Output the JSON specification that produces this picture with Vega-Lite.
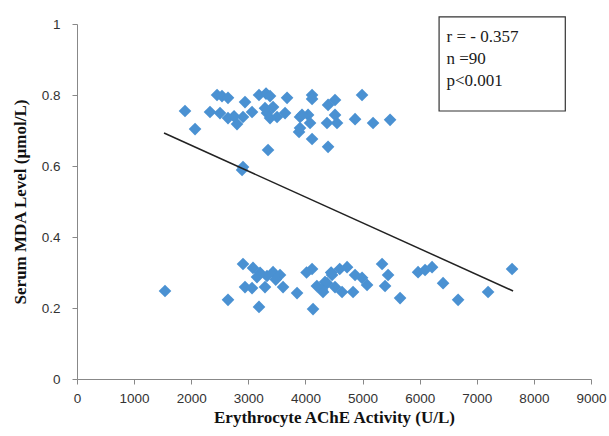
{
  "$schema": "https://vega.github.io/schema/vega-lite/v6.json",
  "width": 514,
  "height": 355,
  "autosize": "none",
  "padding": {"left": 77, "top": 24, "right": 18, "bottom": 57},
  "background": "white",
  "config": {"view": {"stroke": null}},
  "datasets": {
    "pts": [
      {"x": 1891, "y": 0.755}, {"x": 2067, "y": 0.704}, {"x": 2452, "y": 0.800}, {"x": 2539, "y": 0.797},
      {"x": 2644, "y": 0.792}, {"x": 2329, "y": 0.752}, {"x": 2504, "y": 0.749}, {"x": 2644, "y": 0.735},
      {"x": 2802, "y": 0.718}, {"x": 2942, "y": 0.780}, {"x": 3065, "y": 0.752}, {"x": 2907, "y": 0.738},
      {"x": 3187, "y": 0.800}, {"x": 3310, "y": 0.804}, {"x": 3380, "y": 0.797}, {"x": 3678, "y": 0.792},
      {"x": 3327, "y": 0.749}, {"x": 3433, "y": 0.766}, {"x": 3503, "y": 0.738}, {"x": 3643, "y": 0.749},
      {"x": 3345, "y": 0.645}, {"x": 2907, "y": 0.597}, {"x": 2890, "y": 0.589}, {"x": 4116, "y": 0.800},
      {"x": 4116, "y": 0.789}, {"x": 3905, "y": 0.738}, {"x": 4046, "y": 0.744}, {"x": 4081, "y": 0.721},
      {"x": 3888, "y": 0.696}, {"x": 4116, "y": 0.676}, {"x": 4396, "y": 0.654}, {"x": 4396, "y": 0.772},
      {"x": 4518, "y": 0.786}, {"x": 4378, "y": 0.721}, {"x": 4518, "y": 0.744}, {"x": 4553, "y": 0.721},
      {"x": 4991, "y": 0.800}, {"x": 4869, "y": 0.732}, {"x": 5184, "y": 0.721}, {"x": 5482, "y": 0.730},
      {"x": 3905, "y": 0.707}, {"x": 3292, "y": 0.763}, {"x": 3380, "y": 0.735}, {"x": 3940, "y": 0.744},
      {"x": 2750, "y": 0.740},
      {"x": 1541, "y": 0.248}, {"x": 2907, "y": 0.324}, {"x": 3082, "y": 0.313}, {"x": 3205, "y": 0.299},
      {"x": 3327, "y": 0.290}, {"x": 3433, "y": 0.301}, {"x": 3555, "y": 0.293}, {"x": 3152, "y": 0.287},
      {"x": 2942, "y": 0.259}, {"x": 3065, "y": 0.256}, {"x": 3292, "y": 0.259}, {"x": 3608, "y": 0.259},
      {"x": 3853, "y": 0.242}, {"x": 2644, "y": 0.223}, {"x": 3187, "y": 0.203}, {"x": 4116, "y": 0.310},
      {"x": 4133, "y": 0.197}, {"x": 4308, "y": 0.245}, {"x": 4378, "y": 0.270}, {"x": 4466, "y": 0.293},
      {"x": 4343, "y": 0.273}, {"x": 4291, "y": 0.251}, {"x": 4518, "y": 0.259}, {"x": 4641, "y": 0.245},
      {"x": 4729, "y": 0.315}, {"x": 4834, "y": 0.245}, {"x": 4869, "y": 0.293}, {"x": 4991, "y": 0.285},
      {"x": 5079, "y": 0.265}, {"x": 5342, "y": 0.324}, {"x": 5447, "y": 0.293}, {"x": 5394, "y": 0.262},
      {"x": 5657, "y": 0.228}, {"x": 5972, "y": 0.301}, {"x": 6095, "y": 0.307}, {"x": 6217, "y": 0.315},
      {"x": 6410, "y": 0.270}, {"x": 6673, "y": 0.223}, {"x": 7198, "y": 0.245}, {"x": 7618, "y": 0.310},
      {"x": 4200, "y": 0.262}, {"x": 4450, "y": 0.300}, {"x": 4600, "y": 0.310}, {"x": 3480, "y": 0.280},
      {"x": 4020, "y": 0.300}
    ],
    "fit": [{"x": 1524, "y": 0.693}, {"x": 7636, "y": 0.248}],
    "box": [{"x1": 6340, "x2": 8550, "y1": 1.02, "y2": 0.755}],
    "notes": [
      {"label": "r = - 0.357", "x": 6470, "y": 0.963},
      {"label": "n =90", "x": 6470, "y": 0.901},
      {"label": "p<0.001", "x": 6470, "y": 0.839}
    ]
  },
  "layer": [
    {
      "data": {"name": "pts"},
      "mark": {"type": "point", "shape": "diamond", "filled": true, "size": 160, "color": "#4a91d2", "opacity": 1},
      "encoding": {
        "x": {
          "field": "x", "type": "quantitative",
          "scale": {"domain": [0, 9000], "nice": false, "zero": false},
          "axis": {
            "values": [0, 1000, 2000, 3000, 4000, 5000, 6000, 7000, 8000, 9000],
            "format": "d", "grid": false, "domainColor": "#888888", "tickColor": "#888888",
            "tickSize": 5, "labelFont": "Liberation Sans", "labelFontSize": 13.5, "labelColor": "#333333",
            "labelPadding": 7, "labelFlush": false,
            "title": "Erythrocyte AChE Activity (U/L)", "titleFont": "Liberation Serif",
            "titleFontSize": 17, "titleFontWeight": "bold", "titleColor": "#111111", "titlePadding": 5
          }
        },
        "y": {
          "field": "y", "type": "quantitative",
          "scale": {"domain": [0, 1], "nice": false},
          "axis": {
            "values": [0, 0.2, 0.4, 0.6, 0.8, 1],
            "format": "~g",
            "grid": false, "domainColor": "#888888", "tickColor": "#888888",
            "tickSize": 5, "labelFont": "Liberation Sans", "labelFontSize": 13.5, "labelColor": "#333333",
            "labelPadding": 12, "labelFlush": false,
            "title": "Serum MDA Level  (µmol/L)", "titleFont": "Liberation Serif",
            "titleFontSize": 17, "titleFontWeight": "bold", "titleColor": "#111111", "titlePadding": 12
          }
        }
      }
    },
    {
      "data": {"name": "fit"},
      "mark": {"type": "line", "color": "#222222", "strokeWidth": 1.5},
      "encoding": {
        "x": {"field": "x", "type": "quantitative"},
        "y": {"field": "y", "type": "quantitative"}
      }
    },
    {
      "data": {"name": "box"},
      "mark": {"type": "rect", "fill": "white", "stroke": "#333333", "strokeWidth": 1.2, "clip": false},
      "encoding": {
        "x": {"field": "x1", "type": "quantitative"},
        "x2": {"field": "x2"},
        "y": {"field": "y1", "type": "quantitative"},
        "y2": {"field": "y2"}
      }
    },
    {
      "data": {"name": "notes"},
      "mark": {"type": "text", "align": "left", "baseline": "middle", "font": "Liberation Serif", "fontSize": 17, "color": "#1a1a1a"},
      "encoding": {
        "x": {"field": "x", "type": "quantitative"},
        "y": {"field": "y", "type": "quantitative"},
        "text": {"field": "label"}
      }
    }
  ]
}
